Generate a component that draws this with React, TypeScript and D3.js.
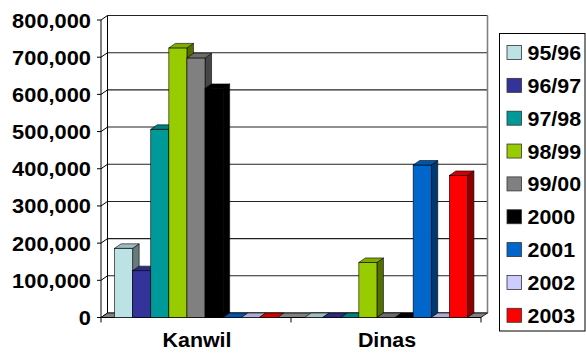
import React from 'react';
import * as d3 from 'd3';

const categories = ['Kanwil', 'Dinas'];
const seriesNames = ['95/96', '96/97', '97/98', '98/99', '99/00', '2000', '2001', '2002', '2003'];
const kanwilValues = [186000, 126000, 506000, 725000, 698000, 616000, 0, 0, 0];
const dinasValues = [0, 0, 0, 148000, 0, 0, 410000, 0, 382000];
const seriesColors = ['#BDE2E6', '#333399', '#009999', '#99CC00', '#808080', '#000000', '#0066CC', '#CCCCFF', '#FF0000'];
const yTicks = [0, 100000, 200000, 300000, 400000, 500000, 600000, 700000, 800000];

const W = 586;
const H = 354;
const X0 = 101;
const X1 = 481;
const Y0 = 317.5;
const YTOP = 20;
const DX = 6.5;
const DY = -4.5;
const FONT = 'Liberation Sans, Arial, sans-serif';

export default function App() {
  const valuesByCat = [kanwilValues, dinasValues];
  const y = d3.scaleLinear().domain([0, 800000]).range([Y0, YTOP]);
  const x0 = d3.scaleBand<string>().domain(categories).range([X0, X1]).paddingInner(0).paddingOuter(0);
  const x1 = d3.scaleBand<string>().domain(seriesNames).range([0, x0.bandwidth()]).paddingInner(0).paddingOuter(0.75);
  const fmt = d3.format(',');
  const shade = (c: string, k: number) => d3.color(c)!.darker(k).formatHex();
  const pts = (a: [number, number][]) => a.map((p) => p.join(',')).join(' ');

  const bars: React.ReactNode[] = [];
  categories.forEach((cat, ci) => {
    seriesNames.forEach((s, si) => {
      const v = valuesByCat[ci][si];
      const xl = (x0(cat) as number) + (x1(s) as number);
      const xr = xl + x1.bandwidth();
      const yt = y(v);
      const col = seriesColors[si];
      const top = shade(col, 0.5);
      const side = shade(col, 1.7);
      bars.push(
        <g key={cat + s}>
          {v > 0 && (
            <polygon
              points={pts([[xr, Y0], [xr + DX, Y0 + DY], [xr + DX, yt + DY], [xr, yt]])}
              fill={side}
              stroke="#000"
              strokeWidth={0.6}
            />
          )}
          {v > 0 && (
            <rect x={xl} y={yt} width={xr - xl} height={Y0 - yt} fill={col} stroke="#000" strokeWidth={0.6} />
          )}
          <polygon
            points={pts([[xl, yt], [xr, yt], [xr + DX, yt + DY], [xl + DX, yt + DY]])}
            fill={top}
            stroke="#000"
            strokeWidth={0.6}
          />
        </g>
      );
    });
  });

  const legendTop = 33.5;
  const rowStep = 32.85;

  return (
    <svg width={W} height={H} style={{ position: 'absolute', left: 0, top: 0, background: '#fff' }}>
      {/* back wall */}
      <rect x={X0 + DX} y={YTOP + DY} width={X1 - X0} height={Y0 - YTOP} fill="#fff" stroke="none" />
      {/* gridlines */}
      {yTicks.map((t) => (
        <g key={t}>
          <line x1={X0 + DX} x2={X1 + DX} y1={y(t) + DY} y2={y(t) + DY} stroke="#222" strokeWidth={1.1} />
          <line x1={X0} x2={X0 + DX} y1={y(t)} y2={y(t) + DY} stroke="#000" strokeWidth={1} />
          <line x1={X0 - 4} x2={X0} y1={y(t)} y2={y(t)} stroke="#000" strokeWidth={1} />
          <text
            transform={`translate(91,${y(t) + 7.5}) scale(1.12,1)`}
            textAnchor="end"
            fontFamily={FONT}
            fontWeight="bold"
            fontSize={19.5}
            fill="#000"
          >
            {fmt(t)}
          </text>
        </g>
      ))}
      <line x1={X1 + DX} x2={X1 + DX} y1={YTOP + DY} y2={Y0 + DY} stroke="#808080" strokeWidth={1.6} />
      <line x1={X0 + DX} x2={X0 + DX} y1={YTOP + DY} y2={Y0 + DY} stroke="#000" strokeWidth={1} />
      {/* floor */}
      <polygon
        points={pts([[X0, Y0], [X1, Y0], [X1 + DX, Y0 + DY], [X0 + DX, Y0 + DY]])}
        fill="#808080"
        stroke="#000"
        strokeWidth={0.8}
      />
      {/* front axis */}
      <line x1={X0} x2={X0} y1={YTOP} y2={Y0} stroke="#000" strokeWidth={1} />
      <line x1={X0} x2={X1} y1={Y0} y2={Y0} stroke="#000" strokeWidth={1} />
      {[X0, ...categories.map((c) => (x0(c) as number) + x0.bandwidth())].map((xx, i) => (
        <line key={i} x1={xx} x2={xx} y1={Y0} y2={Y0 + 5} stroke="#000" strokeWidth={1} />
      ))}
      {bars}
      {categories.map((c) => (
        <text
          key={c}
          transform={`translate(${(x0(c) as number) + x0.bandwidth() / 2 + 1},347) scale(1.07,1)`}
          textAnchor="middle"
          fontFamily={FONT}
          fontWeight="bold"
          fontSize={20}
          fill="#000"
        >
          {c}
        </text>
      ))}
      {/* legend */}
      <rect x={499.5} y={legendTop} width={85.5} height={297.5} fill="#fff" stroke="#000" strokeWidth={1} />
      {seriesNames.map((s, i) => {
        const cy = 52.5 + i * rowStep;
        return (
          <g key={s}>
            <rect x={507} y={cy - 7} width={14.5} height={14} fill={seriesColors[i]} stroke="#333" strokeWidth={0.8} />
            <text
              transform={`translate(527.5,${cy + 7.5}) scale(1.07,1)`}
              fontFamily={FONT}
              fontWeight="bold"
              fontSize={20}
              fill="#000"
            >
              {s}
            </text>
          </g>
        );
      })}
    </svg>
  );
}
